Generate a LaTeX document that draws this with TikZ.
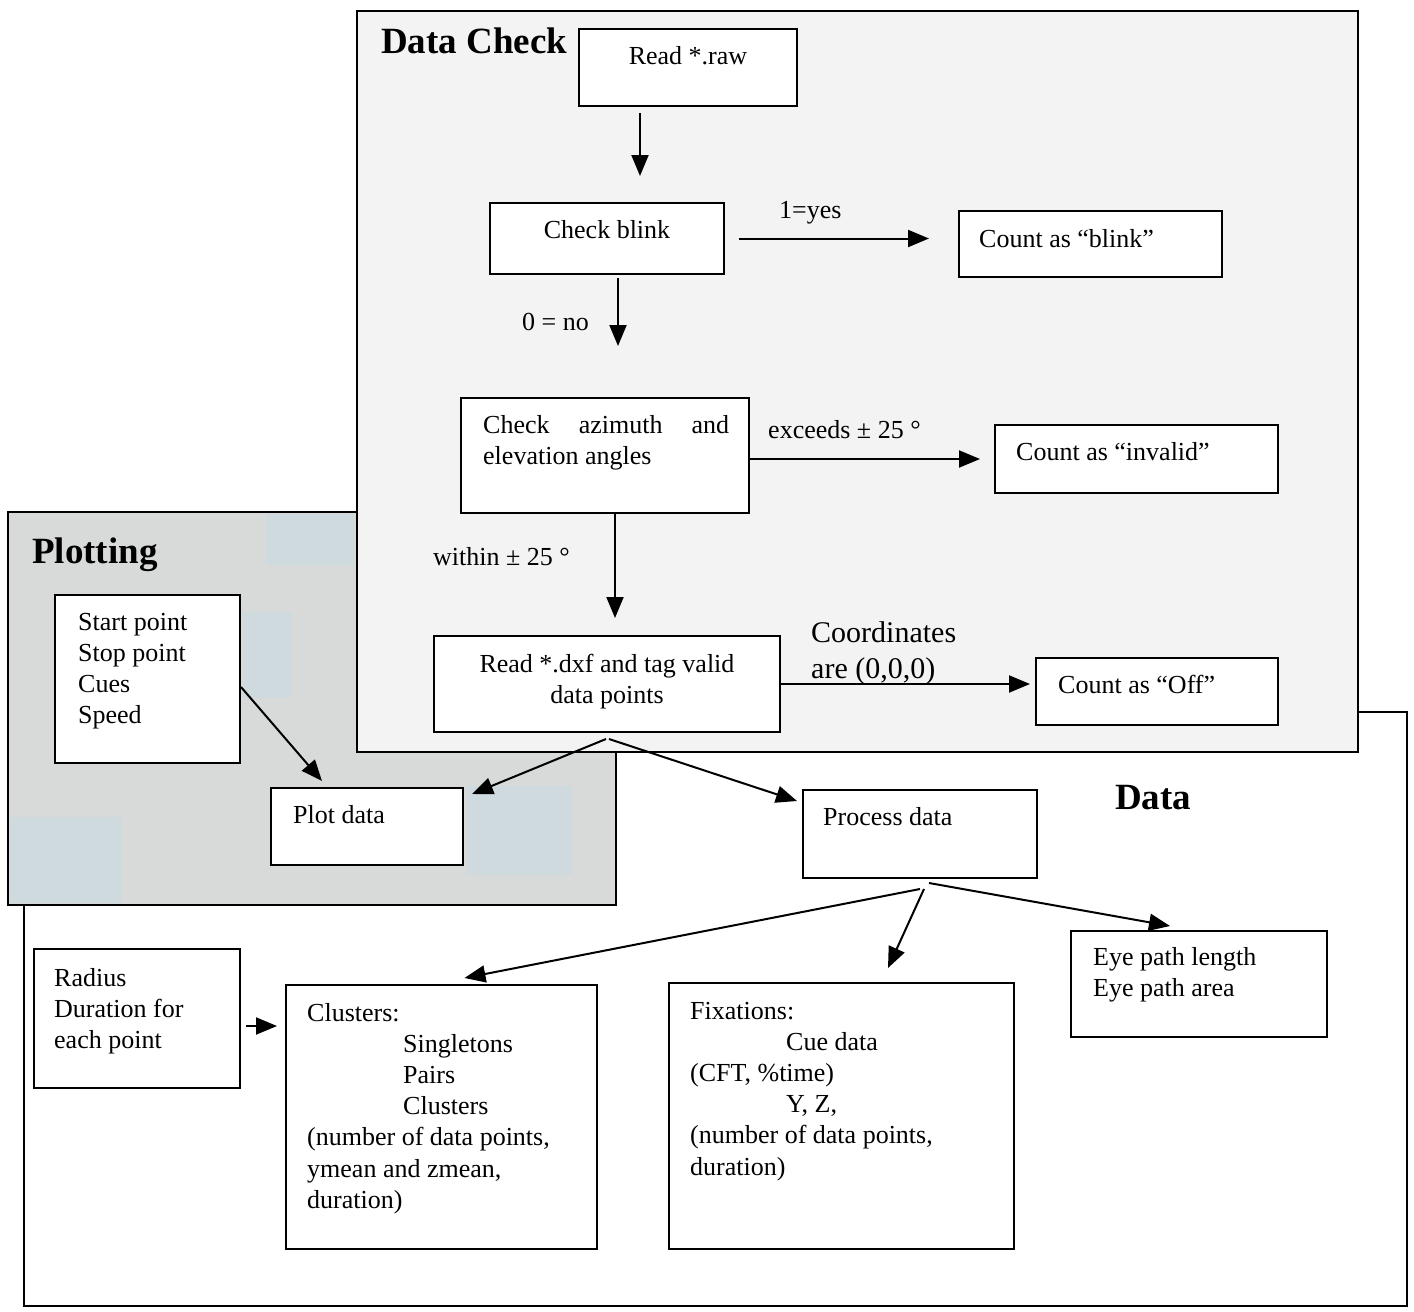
\documentclass[tikz,border=0pt]{standalone}
\usepackage{fontspec}
\setmainfont{Liberation Serif}
\usetikzlibrary{arrows.meta,calc,fit}
\newcommand{\txtl}[1]{\begin{tabular}[t]{@{}l@{}}#1\end{tabular}}
\newcommand{\txtc}[1]{\begin{tabular}[t]{@{}c@{}}#1\end{tabular}}
\definecolor{checkbg}{RGB}{243,243,243}
\definecolor{plotbg}{RGB}{216,217,217}
\definecolor{patchbg}{RGB}{206,218,222}
\tikzset{
  box/.style={draw, line width=2pt, fill=white, inner sep=0pt, rectangle},
  frame/.style={draw, line width=2.2pt, inner sep=0pt, rectangle},
  txt/.style={inner sep=0pt, font=\fontsize{26}{31.2}\selectfont},
  bigtxt/.style={inner sep=0pt, font=\fontsize{30}{36}\selectfont},
  ttl/.style={inner sep=0pt, font=\fontsize{37}{44}\selectfont\bfseries},
  arr/.style={line width=2pt, -{Triangle[length=21pt,width=17pt]}},
  patch/.style={fill=patchbg, draw=none}
}
\begin{document}
\begin{tikzpicture}[x=1pt,y=-1pt]
\useasboundingbox (0,0) rectangle (1414,1312);
\fill[white] (0,0) rectangle (1414,1312);

% ---- frames (back to front) ----
\node[frame, fill=white, fit={(24,712) (1407,1306)}] (dataframe) {};
\node[frame, fill=plotbg, fit={(8,512) (616,905)}] (plotframe) {};
\fill[patchbg] (266,514) rectangle (354,565);
\fill[patchbg] (243,612) rectangle (292,698);
\fill[patchbg] (467,786) rectangle (572,875);
\fill[patchbg] (10,817) rectangle (122,903);
\node[frame, fill=checkbg, fit={(357,11) (1358,752)}] (checkframe) {};

% ---- titles ----
\node[ttl, anchor=base west] (tcheck) at (381,53) {Data Check};
\node[ttl, anchor=base west] (tplot) at (32,563) {Plotting};
\node[ttl, anchor=base west] (tdata) at (1115,809) {Data};

% ---- Data Check boxes ----
\node[box, fit={(579,29) (797,106)}] (raw) {};
\node[box, fit={(490,203) (724,274)}] (blink) {};
\node[box, fit={(959,211) (1222,277)}] (cblink) {};
\node[box, fit={(461,398) (749,513)}] (azim) {};
\node[box, fit={(995,425) (1278,493)}] (cinv) {};
\node[box, fit={(434,636) (780,732)}] (dxf) {};
\node[box, fit={(1036,658) (1278,725)}] (coff) {};

% ---- Plotting boxes ----
\node[box, fit={(55,595) (240,763)}] (start) {};
\node[box, fit={(271,788) (463,865)}] (plot) {};

% ---- Data boxes ----
\node[box, fit={(803,790) (1037,878)}] (proc) {};
\node[box, fit={(34,949) (240,1088)}] (radius) {};
\node[box, fit={(286,985) (597,1249)}] (clus) {};
\node[box, fit={(669,983) (1014,1249)}] (fix) {};
\node[box, fit={(1071,931) (1327,1037)}] (eye) {};

% ---- box texts ----
\node[txt, anchor=base] (traw) at (688,64) {Read *.raw};
\node[txt, anchor=base] (tblink) at (607,238) {Check blink};
\node[txt, anchor=base west] (tcblink) at (979,247) {Count as “blink”};
\node[txt, anchor=base west] (tazim) at (483,433)
  {\txtl{\makebox[246pt][s]{Check azimuth and}\\elevation angles}};
\node[txt, anchor=base west] (tcinv) at (1016,460) {Count as “invalid”};
\node[txt, anchor=base] (tdxf) at (607,672) {\txtc{Read *.dxf and tag valid\\data points}};
\node[txt, anchor=base west] (tcoff) at (1058,693) {Count as “Off”};
\node[txt, anchor=base west] (tstart) at (78,630) {\txtl{Start point\\Stop point\\Cues\\Speed}};
\node[txt, anchor=base west] (tplotd) at (293,823) {Plot data};
\node[txt, anchor=base west] (tproc) at (823,825) {Process data};
\node[txt, anchor=base west] (tradius) at (54,986) {\txtl{Radius\\Duration for\\each point}};
\node[txt, anchor=base west] (tclus) at (307,1021)
  {\txtl{Clusters:\\\hspace{96pt}Singletons\\\hspace{96pt}Pairs\\\hspace{96pt}Clusters\\(number of data points,\\ymean and zmean,\\duration)}};
\node[txt, anchor=base west] (tfix) at (690,1019)
  {\txtl{Fixations:\\\hspace{96pt}Cue data\\(CFT, \%time)\\\hspace{96pt}Y, Z,\\(number of data points,\\duration)}};
\node[txt, anchor=base west] (teye) at (1093,965) {\txtl{Eye path length\\Eye path area}};

% ---- connector labels ----
\node[txt, anchor=base west] (lyes) at (779,218) {1=yes};
\node[txt, anchor=base west] (lno) at (522,330) {0 = no};
\node[txt, anchor=base west] (lexc) at (768,438) {exceeds ± 25 °};
\node[txt, anchor=base west] (lwith) at (433,565) {within ± 25 °};
\node[bigtxt, anchor=base west] (lcoord) at (811,642) {\txtl{Coordinates\\are (0,0,0)}};

% ---- connectors ----
\draw[arr] ($(raw.south)+(-48,6)$) -- ($(blink.north)+(33,-26)$);
\draw[arr] ($(blink.east)+(14,0)$) -- ($(blink.east -| cblink.west)+(-29,0)$);
\draw[arr] ($(blink.south)+(11,3)$) -- ($(azim.north)+(13,-51)$);
\draw[arr] ($(azim.east)+(0,3.5)$) -- ($(azim.east -| cinv.west)+(-14,3.5)$);
\draw[arr] ($(azim.south)+(10,0)$) -- ($(dxf.north)+(8,-17)$);
\draw[arr] (dxf.east) -- ($(dxf.east -| coff.west)+(-5,0)$);
\draw[arr] ($(dxf.south)+(-1,6)$) -- ($(plot.north east)+(8,7)$);
\draw[arr] ($(dxf.south)+(2,6)$) -- ($(proc.north west)+(-5,12)$);
\draw[arr] ($(start.east)+(0,8)$) -- ($(plot.north)+(-45,-6)$);
\draw[arr] ($(radius.east)+(5,7.5)$) -- ($(radius.east -| clus.west)+(-8,7.5)$);
\draw[arr] ($(proc.south)+(0,10)$) -- ($(clus.north)+(23,-6)$);
\draw[arr] ($(proc.south)+(4,10)$) -- ($(fix.north)+(46.5,-14)$);
\draw[arr] ($(proc.south)+(9,4)$) -- ($(eye.north)+(-29,-4)$);
\end{tikzpicture}
\end{document}
